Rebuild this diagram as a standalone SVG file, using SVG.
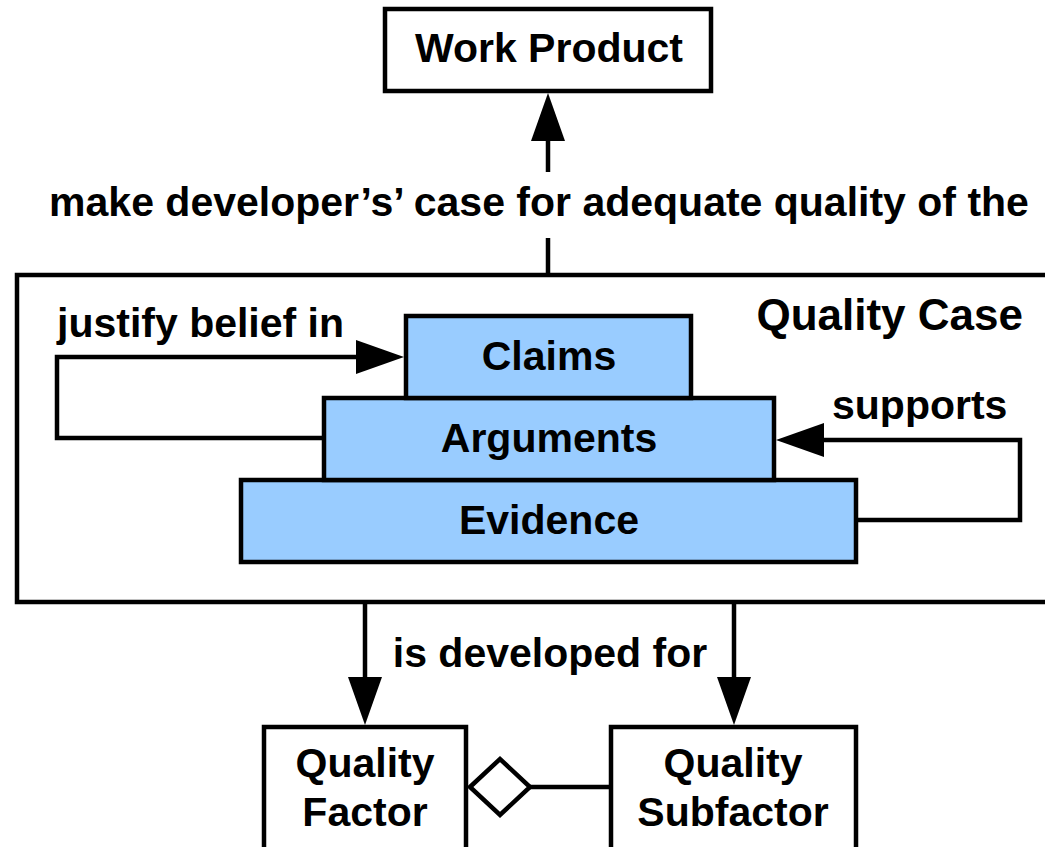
<svg xmlns="http://www.w3.org/2000/svg" width="1045" height="847" viewBox="0 0 1045 847">
<style>
text{font-family:"Liberation Sans",Arial,sans-serif;font-weight:bold;font-size:41px;fill:#000}
.box{fill:#fff;stroke:#000;stroke-width:4.5}
.blue{fill:#99ccff;stroke:#000;stroke-width:4.5}
.ln{fill:none;stroke:#000;stroke-width:4.5}
.c{text-anchor:middle}
</style>
<defs>
<marker id="ah" markerUnits="userSpaceOnUse" markerWidth="50" markerHeight="34" refX="38" refY="17" orient="auto">
<path d="M0,0 L48,17 L0,34 Z" fill="#000"/>
</marker>
</defs>
<g id="quality-case">
<rect class="box" x="17" y="275" width="1040" height="327"/>
<text x="1023" y="330" text-anchor="end" style="font-size:44px">Quality Case</text>
</g>
<g id="work-product">
<rect class="box" x="385" y="9" width="326" height="82"/>
<text class="c" x="549" y="62">Work Product</text>
</g>
<g id="evidence">
<rect class="blue" x="241" y="480" width="615" height="82"/>
<text class="c" x="549" y="534">Evidence</text>
</g>
<g id="arguments">
<rect class="blue" x="324" y="398" width="450" height="82"/>
<text class="c" x="549" y="452">Arguments</text>
</g>
<g id="claims">
<rect class="blue" x="406" y="316" width="285" height="82"/>
<text class="c" x="549" y="370">Claims</text>
</g>
<g id="quality-factor">
<rect class="box" x="264" y="727" width="202" height="140"/>
<text class="c" x="365" y="777">Quality</text>
<text class="c" x="365" y="826">Factor</text>
</g>
<g id="quality-subfactor">
<rect class="box" x="611" y="727" width="245" height="140"/>
<text class="c" x="733" y="777">Quality</text>
<text class="c" x="733" y="826">Subfactor</text>
</g>
<g id="connectors">
<line class="ln" x1="548" y1="275" x2="548" y2="238"/>
<line class="ln" x1="548" y1="172" x2="548" y2="103" marker-end="url(#ah)"/>
<text class="c" x="539" y="216">make developer’s’ case for adequate quality of the</text>
<polyline class="ln" points="324,438 57,438 57,357 394,357" marker-end="url(#ah)"/>
<text x="57" y="337">justify belief in</text>
<polyline class="ln" points="856,520 1020,520 1020,440 786,440" marker-end="url(#ah)"/>
<text x="832" y="419">supports</text>
<line class="ln" x1="365" y1="602" x2="365" y2="715" marker-end="url(#ah)"/>
<line class="ln" x1="734" y1="602" x2="734" y2="715" marker-end="url(#ah)"/>
<text class="c" x="550" y="667">is developed for</text>
<line class="ln" x1="530" y1="787" x2="611" y2="787"/>
<path class="ln" d="M470,787 L500,759 L530,787 L500,815 Z" fill="#fff"/>
</g>
</svg>
